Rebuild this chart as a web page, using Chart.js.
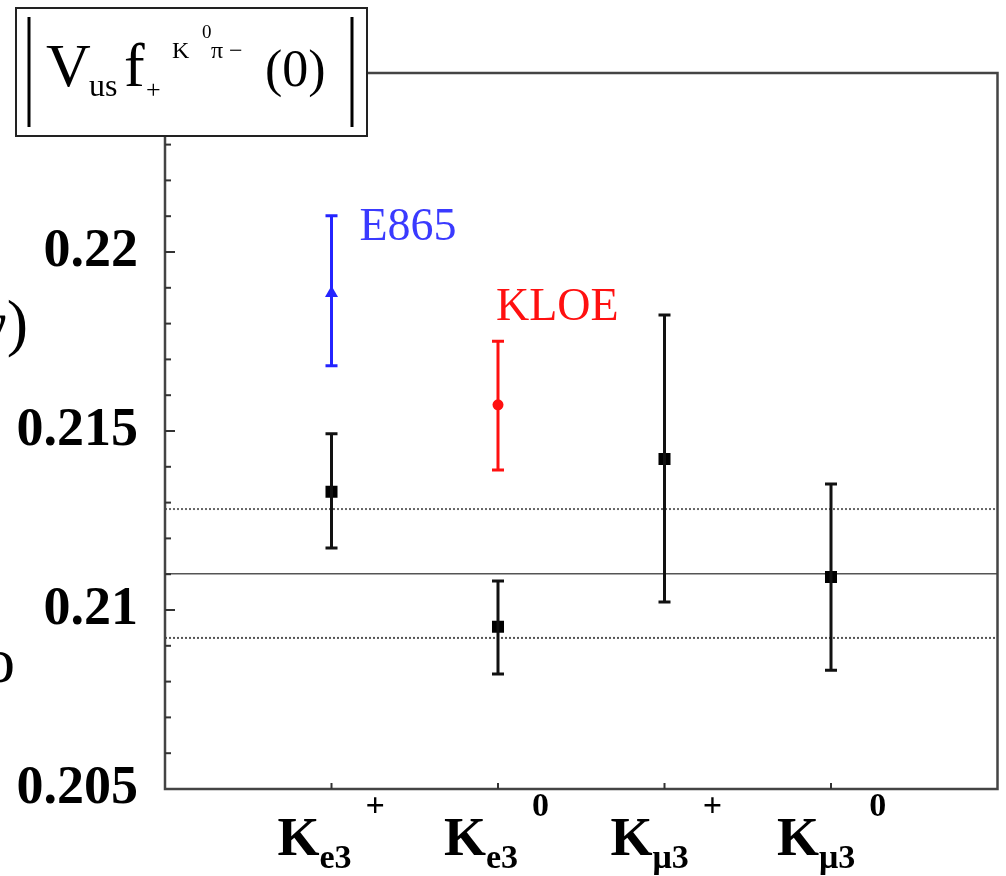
<!DOCTYPE html>
<html>
<head>
<meta charset="utf-8">
<script src="https://cdn.jsdelivr.net/npm/chart.js@4"></script>
<style>
  body { margin: 0; background: #fff; }
  #wrap { width: 1006px; height: 876px; position: relative; }
</style>
</head>
<body>
<div id="wrap"><canvas id="myChart" width="1006" height="876"></canvas></div>
<script>
// categories along x (drawn as K_sub^sup)
const catX = [1, 2, 3, 4];
const catSub = ['e3', 'e3', 'μ3', 'μ3'];
const catSup = ['+', '0', '+', '0'];

// black points: central value, upper and lower ends of the error bar
const avgVal = [0.21330, 0.20953, 0.21422, 0.21092];
const avgHi  = [0.21492, 0.21081, 0.21824, 0.21352];
const avgLo  = [0.21173, 0.20821, 0.21022, 0.20832];

// E865 (blue, on Ke3+) and KLOE (red, on Ke3 0)
const e865X = [1], e865Val = [0.21885], e865Hi = [0.22101], e865Lo = [0.21682];
const kloeX = [2], kloeVal = [0.21573], kloeHi = [0.21751], kloeLo = [0.21391];

// average line and its band
const meanLine = 0.21101;
const bandHi = 0.21282;
const bandLo = 0.20922;

// y tick labels
const yTicks = [0.205, 0.21, 0.215, 0.22];
const yTickLabels = ['0.205', '0.21', '0.215', '0.22'];
const yMin = 0.205, yMax = 0.225, yMinorStep = 0.001;

const SERIF = '"Liberation Serif", "Times New Roman", serif';

function pts(xs, ys) { return xs.map((x, i) => ({ x: x, y: ys[i] })); }

const errorBars = [
  { xs: catX, lo: avgLo, hi: avgHi, color: '#111', width: 3 },
  { xs: e865X, lo: e865Lo, hi: e865Hi, color: '#2424ff', width: 3 },
  { xs: kloeX, lo: kloeLo, hi: kloeHi, color: '#ff1010', width: 3 },
];

const framePlugin = {
  id: 'frame',
  afterDatasetsDraw(chart) {
    const ctx = chart.ctx;
    const xs = chart.scales.x, ys = chart.scales.y;
    // error bars
    errorBars.forEach(b => {
      ctx.save();
      ctx.strokeStyle = b.color;
      ctx.lineWidth = b.width;
      b.xs.forEach((x, i) => {
        const px = xs.getPixelForValue(x);
        const top = ys.getPixelForValue(b.hi[i]);
        const bot = ys.getPixelForValue(b.lo[i]);
        ctx.beginPath();
        ctx.moveTo(px, top); ctx.lineTo(px, bot);
        ctx.moveTo(px - 6, top); ctx.lineTo(px + 6, top);
        ctx.moveTo(px - 6, bot); ctx.lineTo(px + 6, bot);
        ctx.stroke();
      });
      ctx.restore();
    });
  },
  afterDraw(chart) {
    const ctx = chart.ctx;
    const a = chart.chartArea;
    const xs = chart.scales.x, ys = chart.scales.y;
    ctx.save();
    // frame
    ctx.strokeStyle = '#444';
    ctx.lineWidth = 2.5;
    ctx.strokeRect(a.left, a.top, a.right - a.left, a.bottom - a.top);
    // y ticks, inward
    ctx.lineWidth = 2;
    ctx.strokeStyle = '#333';
    const n = Math.round((yMax - yMin) / yMinorStep);
    for (let k = 1; k < n; k++) {
      const v = yMin + k * yMinorStep;
      const py = ys.getPixelForValue(v);
      const major = k % 5 === 0;
      ctx.beginPath();
      ctx.moveTo(a.left, py);
      ctx.lineTo(a.left + (major ? 10 : 6), py);
      ctx.stroke();
    }
    // x ticks, inward
    catX.forEach(x => {
      const px = xs.getPixelForValue(x);
      ctx.beginPath();
      ctx.moveTo(px, a.bottom);
      ctx.lineTo(px, a.bottom - 6);
      ctx.stroke();
    });

    // x category labels
    ctx.fillStyle = '#000';
    ctx.textBaseline = 'alphabetic';
    ctx.textAlign = 'left';
    catX.forEach((x, i) => {
      const px = xs.getPixelForValue(x);
      let cx = px - 54;
      ctx.font = 'bold 54px ' + SERIF;
      ctx.fillText('K', cx, 855);
      cx += ctx.measureText('K').width;
      ctx.font = 'bold 34px ' + SERIF;
      ctx.fillText(catSub[i], cx, 868);
      cx += ctx.measureText(catSub[i]).width + 14;
      ctx.fillText(catSup[i], cx, 816);
    });

    // experiment labels
    ctx.font = '46px ' + SERIF;
    ctx.fillStyle = '#3a3aff';
    ctx.fillText('E865', xs.getPixelForValue(e865X[0]) + 28, ys.getPixelForValue(e865Hi[0]) + 24);
    ctx.fillStyle = '#ff1010';
    ctx.fillText('KLOE', xs.getPixelForValue(kloeX[0]) - 2, ys.getPixelForValue(kloeHi[0]) - 21);

    // clipped pieces of the y axis title at the left edge
    ctx.fillStyle = '#000';
    ctx.font = '64px ' + SERIF;
    ctx.textAlign = 'right';
    ctx.fillText('γ)', 28, 344);
    ctx.textAlign = 'left';
    ctx.fillText('o', -17, 682);

    // title box
    ctx.fillStyle = '#fff';
    ctx.fillRect(15, 7, 352, 129);
    ctx.strokeStyle = '#222';
    ctx.lineWidth = 2;
    ctx.strokeRect(16, 8, 351, 128);
    ctx.lineWidth = 3;
    ctx.strokeStyle = '#000';
    ctx.beginPath();
    ctx.moveTo(29, 17); ctx.lineTo(29, 127);
    ctx.moveTo(352, 17); ctx.lineTo(352, 127);
    ctx.stroke();
    ctx.fillStyle = '#000';
    ctx.font = '62px ' + SERIF;
    ctx.fillText('V', 46, 86);
    ctx.font = '32px ' + SERIF;
    ctx.fillText('us', 89, 96);
    ctx.font = '62px ' + SERIF;
    ctx.fillText('f', 124, 86);
    ctx.font = '26px ' + SERIF;
    ctx.fillText('+', 146, 98);
    ctx.font = '24px ' + SERIF;
    ctx.fillText('K', 172, 58);
    ctx.font = '19px ' + SERIF;
    ctx.fillText('0', 202, 38);
    ctx.font = '24px ' + SERIF;
    ctx.fillText('π −', 211, 58);
    ctx.font = '52px ' + SERIF;
    ctx.fillText('(0)', 265, 86);
    ctx.restore();
  }
};

const ctx = document.getElementById('myChart');

new Chart(ctx, {
  type: 'scatter',
  data: {
    datasets: [
      {
        label: 'average',
        data: pts(catX, avgVal),
        pointStyle: 'rect',
        pointRadius: 8.5,
        backgroundColor: '#000',
        borderColor: '#000',
        borderWidth: 0,
        order: 1
      },
      {
        label: 'E865',
        data: pts(e865X, e865Val),
        pointStyle: 'triangle',
        pointRadius: 7.5,
        backgroundColor: '#2424ff',
        borderColor: '#2424ff',
        borderWidth: 0,
        order: 1
      },
      {
        label: 'KLOE',
        data: pts(kloeX, kloeVal),
        pointStyle: 'circle',
        pointRadius: 5.5,
        backgroundColor: '#ff1010',
        borderColor: '#ff1010',
        borderWidth: 0,
        order: 1
      },
      {
        label: 'mean',
        type: 'line',
        data: [{ x: 0, y: meanLine }, { x: 5, y: meanLine }],
        borderColor: '#555',
        borderWidth: 1.5,
        pointRadius: 0,
        order: 5
      },
      {
        label: 'band hi',
        type: 'line',
        data: [{ x: 0, y: bandHi }, { x: 5, y: bandHi }],
        borderColor: '#666',
        borderWidth: 2,
        borderDash: [2, 2],
        pointRadius: 0,
        order: 5
      },
      {
        label: 'band lo',
        type: 'line',
        data: [{ x: 0, y: bandLo }, { x: 5, y: bandLo }],
        borderColor: '#555',
        borderWidth: 2,
        borderDash: [2, 2],
        pointRadius: 0,
        order: 5
      }
    ]
  },
  options: {
    responsive: false,
    animation: false,
    layout: { padding: { top: 73, right: 8, bottom: 87, left: 0 } },
    plugins: {
      legend: { display: false },
      tooltip: { enabled: false }
    },
    scales: {
      x: {
        type: 'linear',
        min: 0,
        max: 5,
        display: false
      },
      y: {
        type: 'linear',
        min: yMin,
        max: yMax,
        grid: { display: false, drawTicks: false },
        border: { display: false },
        afterFit(scale) { scale.width = 165; },
        afterBuildTicks(scale) { scale.ticks = yTicks.map(v => ({ value: v })); },
        ticks: {
          autoSkip: false,
          padding: 27,
          color: '#000',
          font: { family: SERIF, size: 54, weight: 'bold' },
          callback: function (v) {
            const i = yTicks.findIndex(t => Math.abs(t - v) < 1e-9);
            return i >= 0 ? yTickLabels[i] : '';
          }
        }
      }
    }
  },
  plugins: [framePlugin]
});
</script>
</body>
</html>
